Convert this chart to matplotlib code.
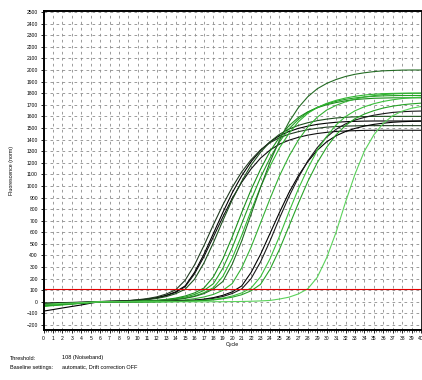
## Amplification plot (fluorescence per cycle) with threshold line

import numpy as np
from matplotlib import pyplot as plt

plt.rcParams['font.family'] = ['Liberation Sans', 'DejaVu Sans']

#------------------------------------------------------------------------------
# Data, one value per cycle (0..40)

cycles = list(range(41))

a1 = [-80,-67,-53,-40,-27,-12,2,4,6,10,15,23,36,56,86,137,254,410,590,770,941,1087,1209,1307,1380,1433,1469,1496,1516,1531,1541,1549,1554,1557,1559,1560,1560,1560,1560,1560,1560]
a2 = [-20,-17,-13,-10,-7,-2,2,4,6,9,14,22,34,53,81,130,241,389,560,731,893,1031,1147,1240,1309,1360,1394,1419,1438,1452,1462,1470,1474,1477,1479,1480,1480,1480,1480,1480,1480]
a3 = [-30,-25,-20,-15,-10,-4,2,3,5,8,12,19,29,45,70,108,195,335,510,700,880,1040,1180,1290,1380,1445,1490,1522,1545,1563,1576,1586,1592,1596,1598,1600,1600,1600,1600,1600,1600]
a4 = [-10,-8,-7,-5,-2,0,3,5,8,11,18,28,43,67,103,185,318,485,665,836,988,1121,1226,1311,1373,1416,1446,1468,1485,1497,1507,1512,1516,1518,1520,1520,1520,1520,1520,1520,1520]
b1 = [-35,-29,-23,-17,-12,-6,0,0,1,2,4,7,11,17,27,41,63,98,156,289,467,673,879,1074,1240,1380,1491,1574,1635,1677,1707,1730,1747,1759,1768,1773,1777,1779,1780,1780,1780]
b2 = [-25,-21,-17,-13,-8,-4,0,1,2,3,6,9,13,21,32,50,77,119,215,369,561,770,968,1144,1298,1419,1518,1590,1639,1674,1700,1719,1734,1745,1751,1756,1758,1760,1760,1760,1760]
b3 = [-40,-33,-27,-20,-13,-7,0,0,1,2,3,6,9,14,21,33,51,79,122,219,377,574,788,990,1170,1328,1451,1553,1626,1676,1712,1738,1758,1773,1784,1791,1796,1798,1800,1800,1800]
c1 = [-30,-25,-20,-15,-10,-5,0,0,0,1,3,5,8,13,19,30,46,71,110,175,325,525,756,988,1206,1394,1550,1675,1769,1838,1884,1918,1944,1963,1976,1986,1993,1996,1999,2000,2000]
c2 = [-20,-17,-13,-10,-7,-3,0,0,0,0,1,2,5,7,11,17,27,42,64,99,158,293,473,681,889,1086,1254,1395,1508,1592,1654,1695,1726,1749,1766,1779,1788,1793,1797,1799,1800]
d1 = [-15,-13,-10,-8,-5,-3,0,0,0,0,0,1,2,4,6,10,15,23,36,56,86,137,254,410,590,770,941,1087,1209,1307,1380,1433,1469,1496,1516,1531,1541,1549,1554,1557,1559]
d2 = [-25,-21,-17,-13,-8,-4,0,0,0,0,0,1,2,3,5,8,12,20,30,46,72,111,201,345,525,721,906,1071,1215,1329,1421,1488,1535,1568,1591,1610,1623,1634,1640,1644,1646]
e1 = [-30,-25,-20,-15,-10,-5,0,0,0,0,0,0,1,2,3,6,9,13,21,32,50,77,119,216,371,564,774,973,1150,1305,1427,1526,1598,1648,1683,1709,1729,1743,1754,1761,1765]
e2 = [-35,-29,-23,-17,-12,-6,0,0,0,0,0,0,0,1,2,4,6,11,16,26,40,61,95,151,280,452,650,849,1037,1199,1333,1441,1521,1580,1620,1649,1672,1688,1700,1708,1714]
f1 = [-20,-17,-13,-10,-7,-3,0,0,0,0,0,0,0,0,0,0,0,0,1,1,2,3,5,8,12,24,40,68,112,210,380,600,860,1100,1300,1440,1540,1605,1645,1670,1685]

curves = [a1, a2, a3, a4, b1, b2, b3, c1, c2, d1, d2, e1, e2, f1]
colors = ['#000000', '#101010', '#1d4f1d', '#203a20',
          '#22a022', '#1b8f1b', '#2fb82f',
          '#246b24', '#33b033',
          '#000000', '#1a1a1a',
          '#3cc03c', '#27a327',
          '#5ad25a']

threshold = 108

#------------------------------------------------------------------------------
# Plot

fig = plt.figure(figsize=(4.22, 3.80), dpi=100)
ax = fig.add_axes([43.5/422, 1-330/380, (421-43.5)/422, (330-11)/380])

for vals, col in zip(curves, colors):
    ax.plot(cycles, vals, color=col, lw=0.8)

ax.axhline(threshold, color='#e00000', lw=0.8)

ax.set_xlim(0, 39.75)
ax.set_ylim(-243, 2509)
ax.set_xticks(range(41))
ax.set_yticks(range(-200, 2501, 100))
ax.set_xticks(np.arange(0, 40, 0.25), minor=True)

ax.grid(True, which='major', color='#8c8c8c', lw=0.6, linestyle=(0, (3.2, 4.0)))
ax.tick_params(axis='both', which='major', labelsize=3.6, length=2.5, width=0.6, pad=1.5)
ax.tick_params(axis='x', which='minor', length=1.2, width=0.4)

for side in ('left', 'bottom', 'top'):
    ax.spines[side].set_linewidth(1.4)
ax.spines['right'].set_linewidth(0.6)

ax.set_xlabel("Cycle", fontsize=3.8, labelpad=1)
ax.set_ylabel("Fluorescence (norm)", fontsize=3.8, labelpad=9)

# settings text under the plot
fig.text(10/422, 1-358/380, "Threshold:", fontsize=4, va='center')
fig.text(62/422, 1-358/380, "108 (Noiseband)", fontsize=4, va='center')
fig.text(10/422, 1-367/380, "Baseline settings:", fontsize=4, va='center')
fig.text(62/422, 1-367/380, "automatic, Drift correction OFF", fontsize=4, va='center')

fig.savefig("out.png", dpi=100)
